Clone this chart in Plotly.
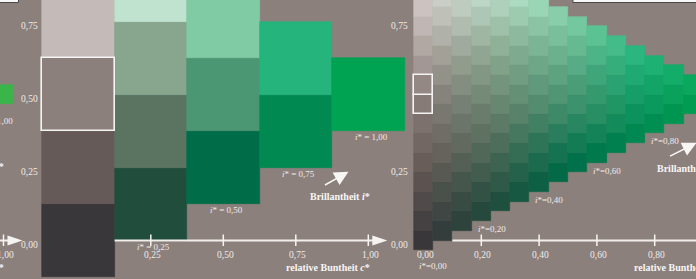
import math
import plotly.graph_objects as go

# ------------------------------------------------------------------ style
BG = "#8c807c"
TXT = "#efebe9"
TXT_B = "#f8f6f5"
FONT = "Liberation Serif, Times New Roman, serif"

# ------------------------------------------------------------------ data
# Left panel: coarse grid, step 0.25 (relative Buntheit c*, relative Helligkeit t*)
L_STEP = 0.25
L_C = [0.00, 0.25, 0.50, 0.75, 1.00]
L_T = [[0.000, 0.250, 0.500, 0.750, 1.000],
       [0.125, 0.375, 0.625, 0.875],
       [0.250, 0.500, 0.750],
       [0.375, 0.625],
       [0.500]]
L_COLORS = [["#3a373b", "#655a57", "#8c807c", "#c4bab7", "#ece6e4"],
            ["#214d3d", "#5a7461", "#88a68e", "#c0e3cf"],
            ["#006d49", "#4b9673", "#80cba4"],
            ["#008a52", "#24b47c"],
            ["#00a352"]]
L_MARKED = [(0, 2)]                      # (column, row) with white frame
L_XTICKS = [0.25, 0.50, 0.75, 1.00]
L_XLABELS = ["0,25", "0,50", "0,75", "1,00"]
L_YTICKS = [0.00, 0.25, 0.50, 0.75]
L_YLABELS = ["0,00", "0,25", "0,50", "0,75"]
L_ILABELS = ["<i>i</i>* = 0,25", "<i>i</i>* = 0,50", "<i>i</i>* = 0,75", "<i>i</i>* = 1,00"]

# Right panel: fine grid, 15 steps; column k has c* = k/15, rows j have t* = (k + 2j)/30
R_DIV = 15
R_COLS = list(range(16))
R_MARKED = [(0, 7), (0, 8)]
R_XTICKS = [0.00, 0.20, 0.40, 0.60, 0.80]
R_XLABELS = ["0,00", "0,20", "0,40", "0,60", "0,80"]
R_TICKMARKS = [0.20, 0.40, 0.60, 0.80]
R_YTICKS = [0.00, 0.25, 0.75]
R_YLABELS = ["0,00", "0,25", "0,75"]
R_IC = [0.20, 0.40, 0.60, 0.80]
R_ILABELS = ["<i>i</i>*=0,20", "<i>i</i>*=0,40", "<i>i</i>*=0,60", "<i>i</i>*=0,80"]

# Panel at far left (only its right end is visible)
P0_C = [1.00]
P0_T = [0.50]
P0_COLORS = ["#3ab54a"]

# ------------------------------------------------------------------ geometry (pixels)
W, H = 696, 279
PX_T = 292.0                 # pixels per unit t*
Y0_PX = 240.5                # pixel row of t* = 0
L_PX, L_X0 = 290.0, 78.3     # left panel: px per unit c*, pixel col of c* = 0
R_PX, R_X0 = 289.0, 423.5    # right panel
P_PX, P_X1 = 289.0, 3.5      # far-left panel: pixel col of c* = 1


def hex2rgb(h):
    h = h.lstrip("#")
    return [int(h[i:i + 2], 16) for i in (0, 2, 4)]


def rgb2hex(c):
    return "#%02x%02x%02x" % tuple(max(0, min(255, int(round(v)))) for v in c)


# colour scale defined by the measured coarse-grid colours (barycentric on the lattice)
def colour_at(c, t):
    u = 4 * c
    v = 4 * t - 2 * c
    i0 = min(int(math.floor(u + 1e-9)), 3)
    j0 = max(0, min(int(math.floor(v + 1e-9)), 3 - i0))
    fu, fv = u - i0, v - j0
    g = lambda i, j: hex2rgb(L_COLORS[i][j])
    if fu + fv <= 1 + 1e-9:
        pts = [(g(i0, j0), 1 - fu - fv), (g(i0 + 1, j0), fu), (g(i0, j0 + 1), fv)]
    else:
        pts = [(g(i0 + 1, j0 + 1), fu + fv - 1), (g(i0, j0 + 1), 1 - fu), (g(i0 + 1, j0), 1 - fv)]
    out = [0, 0, 0]
    for col, wgt in pts:
        for n in range(3):
            out[n] += col[n] * wgt
    return rgb2hex(out)


fig = go.Figure()


def add_cells(xs, ts, cols, step_c, step_t, xaxis, marked):
    n = len(xs)
    lc = list(cols)
    lw = [0.6] * n
    fig.add_trace(go.Bar(x=xs, y=[step_t] * n, base=[t - step_t / 2 for t in ts],
                         width=[step_c] * n,
                         marker=dict(color=cols, line=dict(color=lc, width=lw)),
                         xaxis=xaxis, yaxis="y", hoverinfo="skip", showlegend=False))
    if marked:
        fig.add_trace(go.Bar(x=[xs[m] for m in marked], y=[step_t] * len(marked),
                             base=[ts[m] - step_t / 2 for m in marked],
                             width=[step_c] * len(marked),
                             marker=dict(color=[cols[m] for m in marked],
                                         line=dict(color="#f4f4f4", width=1.6)),
                             xaxis=xaxis, yaxis="y", hoverinfo="skip", showlegend=False))


# right panel cells
rx, rt, rc, rmark = [], [], [], []
for k in R_COLS:
    for j in range(R_DIV + 1 - k):
        c = k / R_DIV
        t = (k + 2 * j) / (2 * R_DIV)
        if (k, j) in R_MARKED:
            rmark.append(len(rx))
        rx.append(c)
        rt.append(t)
        rc.append(colour_at(c, t))
add_cells(rx, rt, rc, 1 / R_DIV, 1 / R_DIV, "x2", rmark)

# left panel cells
lx, lt, lcol, lmark = [], [], [], []
for i, c in enumerate(L_C):
    for j, t in enumerate(L_T[i]):
        if (i, j) in L_MARKED:
            lmark.append(len(lx))
        lx.append(c)
        lt.append(t)
        lcol.append(L_COLORS[i][j])
add_cells(lx, lt, lcol, L_STEP, L_STEP, "x", lmark)

# far-left panel cell
add_cells(P0_C, P0_T, P0_COLORS, 1 / R_DIV, 1 / R_DIV, "x3", [])

# ------------------------------------------------------------------ axes decorations
shapes = []
annots = []


def ann(text, x, y, xref, xanchor="center", xshift=0, yshift=0, size=9.5, color=TXT):
    annots.append(dict(text=text, x=x, y=y, xref=xref, yref="y", xanchor=xanchor,
                       yanchor="middle", xshift=xshift, yshift=yshift, showarrow=False,
                       font=dict(family=FONT, size=size, color=color)))


def x_axis(xref, px_per_c, start, ticks):
    tip = 1 + 19 / px_per_c
    base = tip - 15 / px_per_c
    hh = 5 / PX_T
    shapes.append(dict(type="line", xref=xref, yref="y", x0=start, x1=base + 2 / px_per_c,
                       y0=0, y1=0, line=dict(color="#f2eeec", width=2)))
    shapes.append(dict(type="path", xref=xref, yref="y",
                       path=f"M {base},{hh} L {tip},0 L {base},{-hh} Z",
                       fillcolor="#f6f4f3", line=dict(width=0)))
    for tk in ticks:
        shapes.append(dict(type="line", xref=xref, yref="y", x0=tk, x1=tk,
                           y0=-5.5 / PX_T, y1=6 / PX_T, line=dict(color="#f6f4f3", width=1.5)))


x_axis("x", L_PX, L_STEP / 2, L_XTICKS)
x_axis("x2", R_PX, 1.5 / R_DIV, R_TICKMARKS + [1.0])
x_axis("x3", P_PX, 0.5, [1.0])

# tick labels
for tk, lab in zip(L_XTICKS, L_XLABELS):
    ann(lab, tk, 0, "x", xshift=2, yshift=-14.5)
for tk, lab in zip(R_XTICKS, R_XLABELS):
    ann(lab, tk, 0, "x2", xshift=1.5, yshift=-14.5)
ann("1,00", 1.0, 0, "x3", xshift=2, yshift=-14.5)

for tk, lab in zip(L_YTICKS, L_YLABELS):
    ann(lab, -L_STEP / 2, tk, "x", xanchor="right", xshift=-2, yshift=-4.5)
for tk, lab in zip(R_YTICKS, R_YLABELS):
    ann(lab, -0.5 / R_DIV, tk, "x2", xanchor="right", xshift=-3.5, yshift=-4.5)

# i* labels
for c, lab in zip(L_C[1:], L_ILABELS):
    ann(lab, c, c / 2 - L_STEP / 2, "x", xshift=3, yshift=-6, size=9)
for c, lab in zip(R_IC, R_ILABELS):
    ann(lab, c - 0.5 / R_DIV, c / 2 - 0.5 / R_DIV, "x2", xanchor="left", xshift=4, yshift=-8, size=9)
ann("<i>i</i>*=0,00", -0.5 / R_DIV, -0.5 / R_DIV, "x2", xanchor="left", xshift=3, yshift=-16, size=9)
ann("<i>i</i>*=1,00", 1.0, 0.5 - 0.5 / R_DIV, "x3", xanchor="right", xshift=11.5, yshift=-17, size=9)

# titles
BRILL = "<b>Brillantheit <i>i</i>*</b>"
BUNT = "<b>relative Buntheit <i>c</i>*</b>"
ann(BRILL, 1.0, 0.149, "x", xanchor="right", xshift=4, size=10, color=TXT_B)
ann(BRILL, 0.801, 0.248, "x2", xanchor="left", size=10, color=TXT_B)
ann(BRILL, 1.0, 0.255, "x3", xanchor="right", xshift=2.5, size=10, color=TXT_B)
ann(BUNT, 1.0, -0.094, "x", xanchor="right", xshift=3.7, size=10, color=TXT_B)
ann(BUNT, 0.7215, -0.094, "x2", xanchor="left", size=10, color=TXT_B)
ann(BUNT, 1.0, -0.094, "x3", xanchor="right", xshift=2, size=10, color=TXT_B)

# Brillanz arrows (head drawn at the far end)
for xref, (sx, sy, tx, ty) in [("x", (0.8507, 0.190, 0.9369, 0.238)),
                               ("x2", (0.853, 0.289, 0.950, 0.337))]:
    annots.append(dict(x=sx, y=sy, ax=tx, ay=ty, xref=xref, yref="y", axref=xref, ayref="y",
                       text="", showarrow=True, arrowside="start", startarrowhead=2,
                       startarrowsize=1.9, arrowwidth=1.5, arrowcolor="#f8f6f5"))

# header boxes (bottom edges visible)
for xref in ("x2", "x3"):
    shapes.append(dict(type="rect", xref=xref, yref="y", x0=0.517, x1=1.0519,
                       y0=(Y0_PX - 2.5) / PX_T, y1=1.2, fillcolor="#f7f7f7",
                       line=dict(color="#4a4546", width=1)))

# ------------------------------------------------------------------ layout
fig.update_layout(
    width=W, height=H, margin=dict(l=0, r=0, t=0, b=0),
    paper_bgcolor=BG, plot_bgcolor=BG, barmode="overlay", bargap=0, showlegend=False,
    xaxis=dict(range=[-L_X0 / L_PX, (W - L_X0) / L_PX], visible=False, domain=[0, 1]),
    xaxis2=dict(range=[-R_X0 / R_PX, (W - R_X0) / R_PX], visible=False, overlaying="x"),
    xaxis3=dict(range=[1 - P_X1 / P_PX, 1 + (W - P_X1) / P_PX], visible=False, overlaying="x"),
    yaxis=dict(range=[-(H - Y0_PX) / PX_T, Y0_PX / PX_T], visible=False),
    shapes=shapes, annotations=annots,
)

fig.write_html("out.html", config={"displayModeBar": False},
               post_script="document.body.style.margin='0';")
